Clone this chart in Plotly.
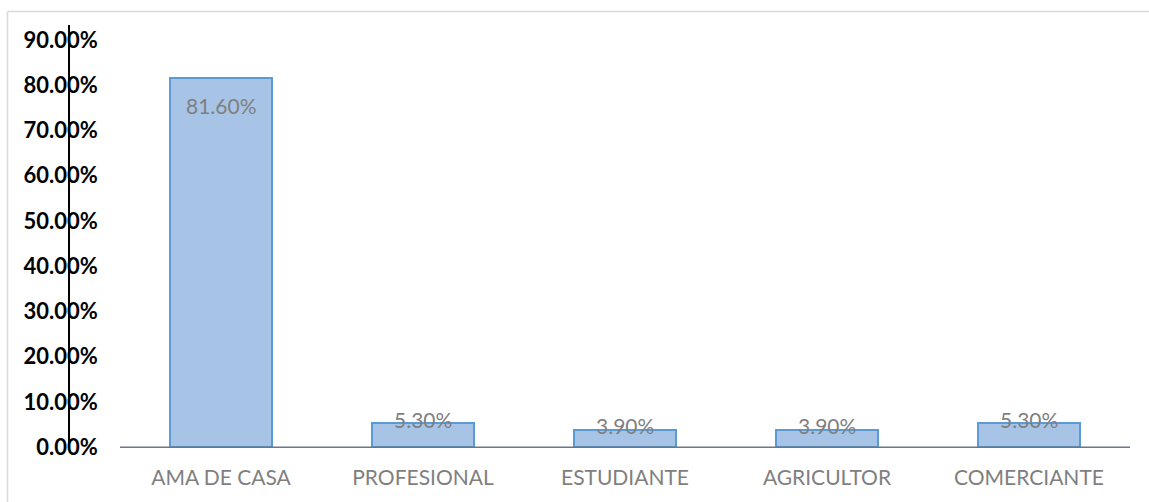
import plotly.graph_objects as go

categories = ["AMA DE CASA", "PROFESIONAL", "ESTUDIANTE", "AGRICULTOR", "COMERCIANTE"]
values = [0.816, 0.053, 0.039, 0.039, 0.053]
labels = ["81.60%", "5.30%", "3.90%", "3.90%", "5.30%"]
ytick_vals = [0, 0.1, 0.2, 0.3, 0.4, 0.5, 0.6, 0.7, 0.8, 0.9]
ytick_text = ["0.00%", "10.00%", "20.00%", "30.00%", "40.00%", "50.00%",
              "60.00%", "70.00%", "80.00%", "90.00%"]

W, H = 1149, 502
L, R, T, B = 70, 19, 25, 53
pw, ph = W - L - R, H - T - B

def px2paper_x(px):
    return (px - L) / pw

def px2paper_y(py):
    return (H - B - py) / ph

xs = list(range(len(categories)))

fig = go.Figure()
fig.add_trace(go.Bar(
    x=xs, y=values, width=0.505,
    marker=dict(color="#a7c4e7", line=dict(color="#5b9bd5", width=2)),
    hoverinfo="skip",
))

label_font = dict(family="Lato", size=21, color="#7f7f7f")
for xi, v, t in zip(xs, values, labels):
    if v > 0.1:
        fig.add_annotation(x=xi, y=v, text=t, showarrow=False, yanchor="top",
                           yshift=-13, font=label_font)
    else:
        fig.add_annotation(x=xi, y=v, text=t, showarrow=False, yanchor="middle",
                           yshift=4, font=label_font)

# horizontal category axis line
fig.add_shape(type="line", xref="x", yref="y", x0=-0.5, x1=len(categories) - 0.5,
              y0=0, y1=0, line=dict(color="#6b7787", width=1.5))

# outer chart border (light gray)
fig.add_shape(type="line", xref="paper", yref="paper",
              x0=px2paper_x(7.5), x1=px2paper_x(7.5),
              y0=px2paper_y(11.5), y1=px2paper_y(H + 5),
              line=dict(color="#d9d9d9", width=1.5))
fig.add_shape(type="line", xref="paper", yref="paper",
              x0=px2paper_x(7.5), x1=px2paper_x(W + 5),
              y0=px2paper_y(11.5), y1=px2paper_y(11.5),
              line=dict(color="#d9d9d9", width=1.5))

fig.update_layout(
    width=W, height=H,
    margin=dict(l=L, r=R, t=T, b=B, pad=0),
    paper_bgcolor="white", plot_bgcolor="white",
    showlegend=False,
    bargap=0,
    xaxis=dict(
        range=[-0.5 - 50 / 202, len(categories) - 0.5],
        tickmode="array", tickvals=xs, ticktext=categories,
        showgrid=False, zeroline=False, showline=False, ticks="",
        tickfont=dict(family="Lato", size=21, color="#7f7f7f"),
        ticklabelstandoff=14,
    ),
    yaxis=dict(
        range=[-0.004, 0.933],
        tickmode="array", tickvals=ytick_vals, ticktext=ytick_text,
        showgrid=False, zeroline=False,
        showline=True, linecolor="black", linewidth=1.5,
        ticks="",
        tickfont=dict(family="Lato", size=22, color="black", weight="bold"),
        ticklabelstandoff=-34,
    ),
)

fig.write_html("out.html", config={"displayModeBar": False},
               post_script="document.body.style.margin='0';")
